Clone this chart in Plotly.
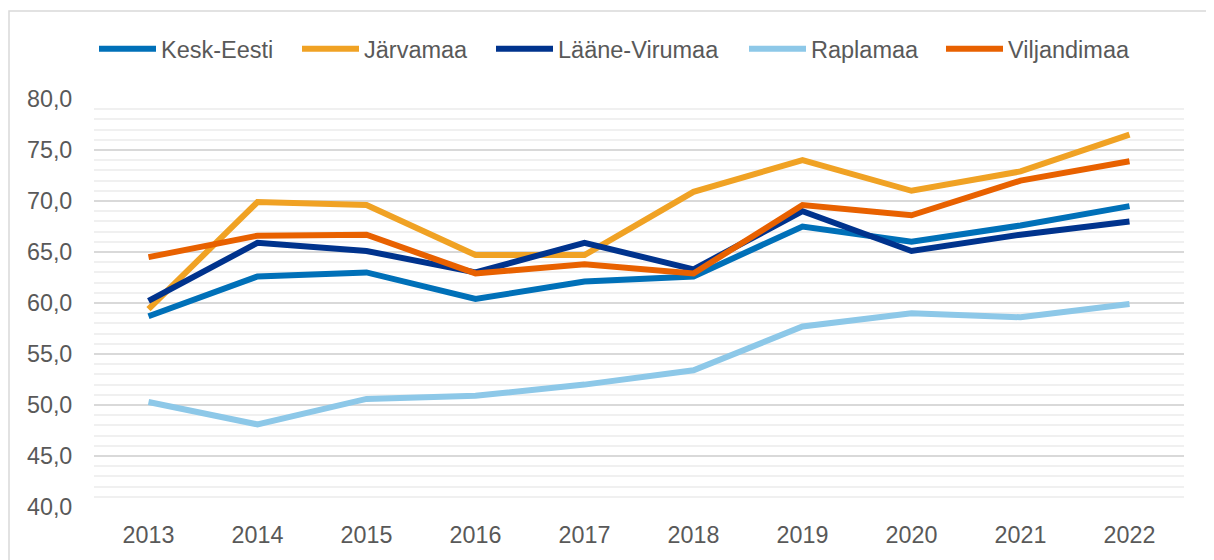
import plotly.graph_objects as go

years = ["2013", "2014", "2015", "2016", "2017", "2018", "2019", "2020", "2021", "2022"]
kesk_eesti = [58.7, 62.6, 63.0, 60.4, 62.1, 62.6, 67.5, 66.0, 67.6, 69.5]
jarvamaa = [59.4, 69.9, 69.6, 64.7, 64.7, 70.9, 74.0, 71.0, 72.9, 76.5]
laane_virumaa = [60.2, 65.9, 65.1, 63.0, 65.9, 63.3, 69.0, 65.1, 66.7, 68.0]
raplamaa = [50.3, 48.1, 50.6, 50.9, 52.0, 53.4, 57.7, 59.0, 58.6, 59.9]
viljandimaa = [64.5, 66.6, 66.7, 62.9, 63.8, 62.9, 69.6, 68.6, 72.0, 73.9]

series = [
    ("Kesk-Eesti", kesk_eesti, "#0070B8"),
    ("Järvamaa", jarvamaa, "#F0A224"),
    ("Lääne-Virumaa", laane_virumaa, "#00338D"),
    ("Raplamaa", raplamaa, "#8DC8E8"),
    ("Viljandimaa", viljandimaa, "#E86100"),
]
legend_px = [94, 297, 491, 744, 941]  # left edge of each legend entry (page px)

OFF = 8  # page body margin
W, H = 1206, 552
ml, mt = 94 - OFF, 99 - OFF
right_px, bottom_px = 1184 - OFF, 507 - OFF
mr, mb = W - right_px, H - bottom_px
pw, ph = W - ml - mr, H - mt - mb

def px_x(x):
    return (x - OFF - ml) / pw

def px_y(y):
    return (H - mb - (y - OFF)) / ph

fig = go.Figure()
legend_layouts = {}
for i, (name, vals, col) in enumerate(series):
    lid = "legend" if i == 0 else f"legend{i + 1}"
    fig.add_trace(go.Scatter(x=years, y=vals, name=name, mode="lines", legend=lid,
                             line=dict(color=col, width=6)))
    legend_layouts[lid] = dict(orientation="h", x=px_x(legend_px[i]), xanchor="left",
                               y=px_y(49), yanchor="middle", itemwidth=57,
                               font=dict(size=23.5, color="#595959"),
                               bgcolor="rgba(0,0,0,0)", borderwidth=0)

fig.add_shape(type="rect", xref="paper", yref="paper",
              x0=px_x(9), x1=px_x(1212), y0=px_y(590), y1=px_y(11),
              line=dict(color="#D9D9D9", width=1.5), fillcolor="rgba(0,0,0,0)",
              layer="below")

fig.update_layout(
    width=W, height=H,
    margin=dict(l=ml, r=mr, t=mt, b=mb),
    paper_bgcolor="white", plot_bgcolor="white",
    separators=", ",
    font=dict(family="Liberation Sans, Arial, sans-serif", size=23.3, color="#595959"),
    showlegend=True,
    xaxis=dict(type="category", range=[-0.5, 9.5], showgrid=False, zeroline=False, showline=False,
               ticks="outside", ticklen=7, tickcolor="rgba(0,0,0,0)",
               tickfont=dict(size=23.3, color="#595959")),
    yaxis=dict(range=[40, 80], dtick=5, tickformat=".1f", showgrid=True,
               gridcolor="#D9D9D9", gridwidth=1.5, zeroline=False, showline=False,
               ticks="outside", ticklen=16, tickcolor="rgba(0,0,0,0)",
               tickfont=dict(size=23.3, color="#595959"),
               minor=dict(dtick=1, showgrid=True, gridcolor="#F0F0F0", gridwidth=1.5)),
    **legend_layouts,
)

fig.write_html("out.html")
